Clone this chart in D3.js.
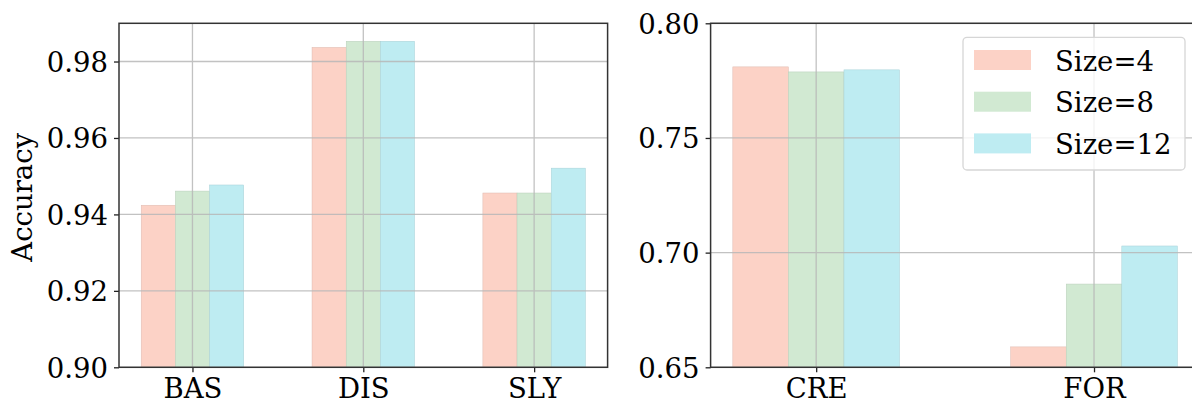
<!DOCTYPE html>
<html>
<head>
<meta charset="utf-8">
<script src="https://cdn.jsdelivr.net/npm/d3@7"></script>
<style>
  body { margin: 0; background: #fff; }
  svg { display: block; font-family: "DejaVu Serif", serif; }
  .tick text { font-size: 27.5px; fill: #000; }
</style>
</head>
<body>
<svg id="chart" width="1192" height="404"></svg>
<script>
// data
const seriesNames = ["Size=4", "Size=8", "Size=12"];
const seriesColors = ["#fcd2c6", "#d1e9d2", "#beecf2"];

const leftCategories = ["BAS", "DIS", "SLY"];
const leftSize4 = [0.9424, 0.9837, 0.9456];
const leftSize8 = [0.9461, 0.9853, 0.9456];
const leftSize12 = [0.9477, 0.9853, 0.9521];
const leftTicks = [0.90, 0.92, 0.94, 0.96, 0.98];

const rightCategories = ["CRE", "FOR"];
const rightSize4 = [0.7810, 0.6589];
const rightSize8 = [0.7788, 0.6863];
const rightSize12 = [0.7797, 0.7029];
const rightTicks = [0.65, 0.70, 0.75, 0.80];

const svg = d3.select("#chart");
const plotTop = 23.3, plotBottom = 367.3;
const barWidth = 0.2;

function drawPanel(opts) {
  const { x0, x1, categories, series, yDomain, ticks, ylabel } = opts;
  const n = categories.length;
  const pad = (n - 1 + 3 * barWidth) * 0.05;
  const x = d3.scaleLinear()
    .domain([-1.5 * barWidth - pad, n - 1 + 1.5 * barWidth + pad])
    .range([x0, x1]);
  const y = d3.scaleLinear().domain(yDomain).range([plotBottom, plotTop]);

  const g = svg.append("g");

  // bars
  series.forEach((values, s) => {
    g.append("g")
      .selectAll("rect")
      .data(values)
      .join("rect")
      .attr("x", (v, i) => x(i + (s - 1.5) * barWidth))
      .attr("width", x(barWidth) - x(0))
      .attr("y", (v) => y(v))
      .attr("height", (v) => plotBottom - y(v))
      .attr("fill", seriesColors[s])
      .attr("stroke", d3.color(seriesColors[s]).darker(0.35))
      .attr("stroke-width", 0.5);
  });

  // grid on top of bars
  const grid = g.append("g").attr("stroke", "#b8b8b8").attr("stroke-width", 1.3).attr("opacity", 0.85);
  grid.selectAll("line.h")
    .data(ticks)
    .join("line")
    .attr("x1", x0).attr("x2", x1)
    .attr("y1", (t) => y(t)).attr("y2", (t) => y(t));
  grid.selectAll("line.v")
    .data(d3.range(n))
    .join("line")
    .attr("x1", (i) => x(i)).attr("x2", (i) => x(i))
    .attr("y1", plotTop).attr("y2", plotBottom);

  // axes
  const yAxis = g.append("g")
    .attr("transform", `translate(${x0},0)`)
    .call(d3.axisLeft(y).tickValues(ticks).tickFormat(d3.format(".2f")).tickSize(5).tickPadding(6));
  const xAxis = g.append("g")
    .attr("transform", `translate(0,${plotBottom})`)
    .call(d3.axisBottom(x).tickValues(d3.range(n)).tickFormat((i) => categories[i]).tickSize(5).tickPadding(5));
  [yAxis, xAxis].forEach((a) => {
    a.attr("font-family", "DejaVu Serif, serif");
    a.select(".domain").remove();
    a.selectAll(".tick line").attr("stroke", "#222").attr("stroke-width", 1.3);
  });
  yAxis.selectAll(".tick text").attr("dy", "0.36em");
  xAxis.selectAll(".tick text").attr("dy", "0.75em");

  // frame
  g.append("rect")
    .attr("x", x0).attr("y", plotTop)
    .attr("width", x1 - x0).attr("height", plotBottom - plotTop)
    .attr("fill", "none").attr("stroke", "#333").attr("stroke-width", 1.5);

  if (ylabel) {
    svg.append("text")
      .attr("transform", `translate(32,${(plotTop + plotBottom) / 2 + 2}) rotate(-90)`)
      .attr("text-anchor", "middle")
      .attr("font-size", 27.5)
      .text(ylabel);
  }
  return g;
}

drawPanel({
  x0: 119, x1: 607.6,
  categories: leftCategories,
  series: [leftSize4, leftSize8, leftSize12],
  yDomain: [0.90, 0.99],
  ticks: leftTicks,
  ylabel: "Accuracy",
});

drawPanel({
  x0: 710.6, x1: 1199.6,
  categories: rightCategories,
  series: [rightSize4, rightSize8, rightSize12],
  yDomain: [0.65, 0.80],
  ticks: rightTicks,
});

// legend
const legend = svg.append("g").attr("transform", "translate(963,37.3)");
legend.append("rect")
  .attr("width", 222).attr("height", 132.7)
  .attr("rx", 4)
  .attr("fill", "#fff").attr("fill-opacity", 0.8)
  .attr("stroke", "#d6d6d6").attr("stroke-width", 1.3);
const item = legend.selectAll("g.item")
  .data(seriesNames)
  .join("g")
  .attr("transform", (d, i) => `translate(11,${12.7 + i * 41.7})`);
item.append("rect")
  .attr("width", 57).attr("height", 20)
  .attr("fill", (d, i) => seriesColors[i]);
item.append("text")
  .attr("x", 81).attr("y", 20.5)
  .attr("font-size", 27.5)
  .text((d) => d);
</script>
</body>
</html>
